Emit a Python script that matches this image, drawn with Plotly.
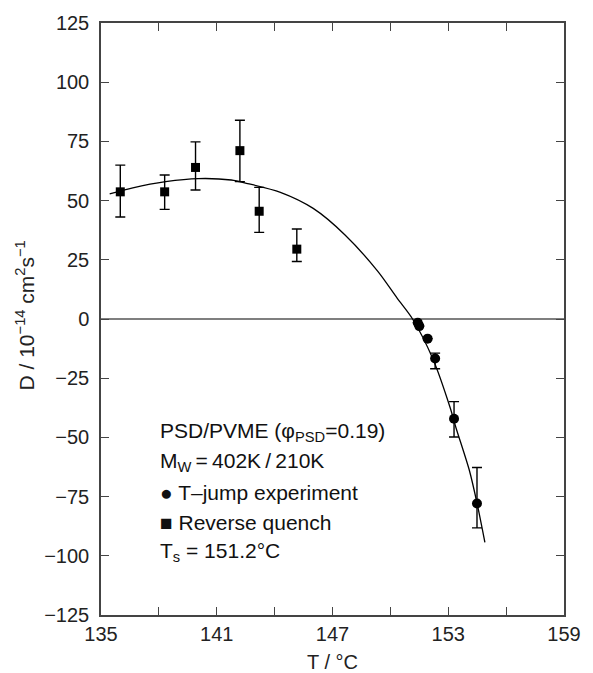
import plotly.graph_objects as go

# Reverse quench (squares)
rq_T = [136.0, 138.3, 139.9, 142.2, 143.2, 145.15]
rq_D = [53.7, 53.7, 64.0, 71.1, 45.5, 29.5]
rq_up = [11.3, 7.1, 10.8, 12.8, 10.1, 8.5]
rq_dn = [10.6, 7.4, 9.5, 13.1, 8.9, 5.2]

# T-jump experiment (circles)
tj_T = [151.42, 151.5, 151.93, 152.32, 153.3, 154.49]
tj_D = [-1.6, -3.0, -8.3, -16.7, -42.1, -77.9]
tj_up = [0, 0, 0, 2.3, 7.2, 15.2]
tj_dn = [0, 0, 0, 4.3, 7.7, 10.3]

# fitted curve
fit_T = [135.45, 136.65, 138.35, 140.05, 141.75, 142.6, 144.3, 146.0, 147.65,
         149.35, 150.35, 151.15, 152.2, 153.1, 153.4, 154.1, 154.5, 154.9]
fit_D = [52.8, 55.4, 58.0, 59.3, 58.7, 57.2, 53.5, 46.7, 35.5,
         20.1, 8.8, 0.0, -16.8, -37.5, -45.9, -64.1, -78.1, -94.3]

x_ticks = [135, 138, 141, 144, 147, 150, 153, 156, 159]
x_labels = ["135", "", "141", "", "147", "", "153", "", "159"]
y_ticks = [-125, -100, -75, -50, -25, 0, 25, 50, 75, 100, 125]

FONT = "Liberation Sans, Arial, sans-serif"
AX = "#444444"
FS = 20

fig = go.Figure()

fig.add_trace(go.Scatter(x=fit_T, y=fit_D, mode="lines",
                         line=dict(color="black", width=1.3, shape="spline", smoothing=0.8),
                         hoverinfo="skip", showlegend=False))
fig.add_trace(go.Scatter(
    x=rq_T, y=rq_D, mode="markers",
    marker=dict(symbol="square", size=9, color="black"),
    error_y=dict(type="data", symmetric=False, array=rq_up, arrayminus=rq_dn,
                 color="black", thickness=1.4, width=5),
    showlegend=False))
fig.add_trace(go.Scatter(
    x=tj_T, y=tj_D, mode="markers",
    marker=dict(symbol="circle", size=10, color="black"),
    error_y=dict(type="data", symmetric=False, array=tj_up, arrayminus=tj_dn,
                 color="black", thickness=1.4, width=5),
    showlegend=False))

fig.add_shape(type="line", xref="paper", yref="y", x0=0, x1=1, y0=0, y1=0,
              line=dict(color="black", width=1.2), layer="below")

lines = [
    "PSD/PVME (φ<sub>PSD</sub>=0.19)",
    "M<sub>W</sub>\u2009=\u2009402K\u2009/\u2009210K",
    "● T–jump experiment",
    "■ Reverse quench",
    "T<sub>s</sub> = 151.2°C",
]
ys = [431, 461, 492, 522, 552]
for t, yp in zip(lines, ys):
    fig.add_annotation(text=t, xref="paper", yref="paper",
                       x=(159 - 101) / 472, y=(615 - yp) / 594,
                       xanchor="left", yanchor="middle", showarrow=False,
                       font=dict(family=FONT, size=21, color="#111"))

# y-axis title
fig.add_annotation(text="D / 10<sup>−14</sup> cm<sup>2</sup>s<sup>−1</sup>",
                   xref="paper", yref="paper", x=(24 - 101) / 472, y=(615 - 314) / 594,
                   xanchor="center", yanchor="middle", textangle=-90, showarrow=False,
                   font=dict(family=FONT, size=21, color="#222"))

# x-axis title
fig.add_annotation(text="T / °C", xref="paper", yref="paper",
                   x=0.5, y=-(662 - 615) / 594, xanchor="center", yanchor="middle",
                   showarrow=False, font=dict(family=FONT, size=FS, color="#222"))

fig.update_layout(
    width=593, height=673,
    margin=dict(l=101, r=20, t=21, b=58),
    paper_bgcolor="white", plot_bgcolor="white",
    font=dict(family=FONT, size=FS, color="#222"),
    xaxis=dict(range=[135, 159], tickvals=x_ticks, ticktext=x_labels,
               ticks="inside", ticklen=8, tickwidth=1.2, tickcolor=AX,
               showline=True, linecolor=AX, linewidth=1.5, mirror="ticks",
               showgrid=False, zeroline=False),
    yaxis=dict(range=[-125, 125], tickvals=y_ticks,
               ticks="inside", ticklen=8, tickwidth=1.2, tickcolor=AX,
               showline=True, linecolor=AX, linewidth=1.5, mirror="ticks",
               showgrid=False, zeroline=False, ticklabelstandoff=6),
)

fig.write_html("out.html")
